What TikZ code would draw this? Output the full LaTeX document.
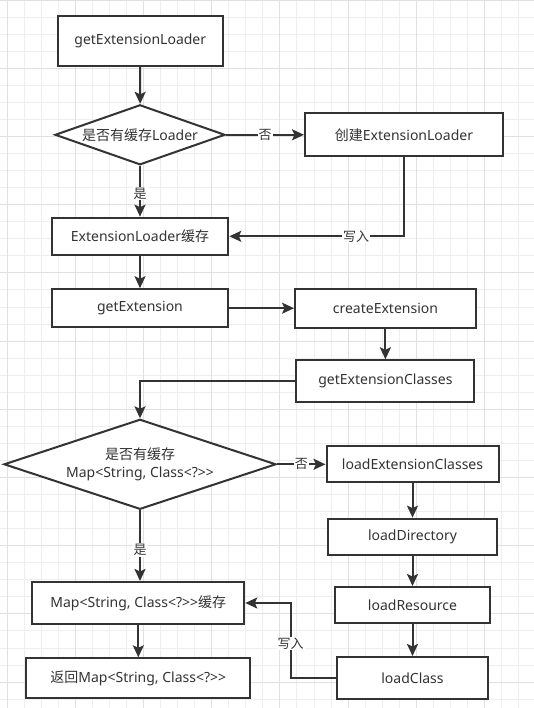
\documentclass[tikz,border=0pt]{standalone}
\usepackage{fontspec}
\setmainfont{Noto Sans}
\newfontfamily\cjk{Noto Sans CJK SC}
\usetikzlibrary{shapes.geometric}
\usetikzlibrary{positioning}
\usetikzlibrary{arrows.meta}
\definecolor{lncol}{HTML}{333333}
\definecolor{gridmin}{HTML}{EEEEEE}
\definecolor{gridmaj}{HTML}{E0E0E0}
\tikzset{
    mybox/.style = {rectangle, line width=2pt, draw=lncol, fill=white, align=center, inner sep=0pt, font=\fontsize{14}{17.5}\selectfont, text=lncol},
    mydiam/.style = {diamond, line width=2pt, draw=lncol, fill=white, align=center, inner sep=0pt, font=\fontsize{14}{17.5}\selectfont, text=lncol},
    mylabel/.style = {fill=white, inner sep=1pt, font=\cjk\fontsize{13}{15}\selectfont, text=lncol},
    edgen/.style = {-{Stealth[length=12pt,width=11pt,inset=2.5pt]}, line width=2pt, lncol},
    gridn/.style = {line width=0.8pt, gridmin},
    gridb/.style = {line width=0.8pt, gridmaj}
}

\begin{document}
\begin{tikzpicture}[x=1pt,y=-1pt]
\useasboundingbox (0,0) rectangle (534,708);
\fill[white] (0,0) rectangle (534,708);

% grid
\foreach \i in {0,...,30} \draw[gridn] (7+17.05*\i,0) -- (7+17.05*\i,708);
\foreach \j in {0,...,41} \draw[gridn] (0,17.05*\j) -- (534,17.05*\j);
\foreach \i in {0,4,...,28} \draw[gridb] (7+17.05*\i,0) -- (7+17.05*\i,708);
\foreach \j in {0,4,...,40} \draw[gridb] (0,17.05*\j) -- (534,17.05*\j);

\node[mybox, minimum width=165.5pt, minimum height=49.7pt] at (140.3, 40.8) (gel) {getExtensionLoader};
\node[mydiam, aspect=2.8, minimum width=170pt, minimum height=60pt] at (140.0,134.8) (d1) {{\cjk 是否有缓存}Loader};
\node[mybox, minimum width=198pt, minimum height=43pt] at (404.0,134.8) (cel) {{\cjk 创建}ExtensionLoader};
\node[mybox, minimum width=176.6pt, minimum height=37.3pt] at (140.0,236.3) (elc) {ExtensionLoader{\cjk 缓存}};
\node[mybox, minimum width=176.6pt, minimum height=38pt] at (140.0,308.2) (ge) {getExtension};
\node[mybox, minimum width=180.7pt, minimum height=38.6pt] at (385.4,308.2) (ce) {createExtension};
\node[mybox, minimum width=178pt, minimum height=42pt] at (385.4,381.3) (gec) {getExtensionClasses};
\node[mydiam, aspect=3, minimum width=272pt, minimum height=90pt] at (140.0,464.3) (d2) {{\cjk 是否有缓存}\\Map<String, Class<?>{}>};
\node[mybox, minimum width=172pt, minimum height=35.7pt] at (412.5,464.3) (lec) {loadExtensionClasses};
\node[mybox, minimum width=168.6pt, minimum height=36.3pt] at (412.5,536.8) (ld) {loadDirectory};
\node[mybox, minimum width=154.7pt, minimum height=36pt] at (412.5,605.0) (lr) {loadResource};
\node[mybox, minimum width=151.3pt, minimum height=42pt] at (412.5,678.0) (lcl) {loadClass};
\node[mybox, minimum width=212pt, minimum height=42pt] at (138.3,603.0) (mc) {Map<String, Class<?>{}>{\cjk 缓存}};
\node[mybox, minimum width=223.7pt, minimum height=40pt] at (138.3,678.3) (ret) {{\cjk 返回}Map<String, Class<?>{}>};

\draw[edgen] (gel) -- (d1);
\draw[edgen] (d1) -- node[mylabel] {否} (cel);
\draw[edgen] (d1) -- node[mylabel, pos=0.55] {是} (elc);
\draw[edgen] (cel.south) |- node[mylabel, pos=0.637] {写入} (elc.east);
\draw[edgen] (elc) -- (ge);
\draw[edgen] (ge) -- (ce);
\draw[edgen] (ce) -- (gec);
\draw[edgen] (gec.west) -| (d2.north);
\draw[edgen] (d2) -- node[mylabel] {否} (lec);
\draw[edgen] (d2.south) -- node[mylabel, pos=0.56] {是} (d2.south |- mc.north);
\draw[edgen] (lec) -- (ld);
\draw[edgen] (ld) -- (lr);
\draw[edgen] (lr) -- (lcl);
\draw[edgen] (mc) -- (ret);
\draw[edgen] (lcl.west) -- ++(-45.3,0) |- node[mylabel, pos=0.23] {写入} (mc.east);

\end{tikzpicture}
\end{document}
